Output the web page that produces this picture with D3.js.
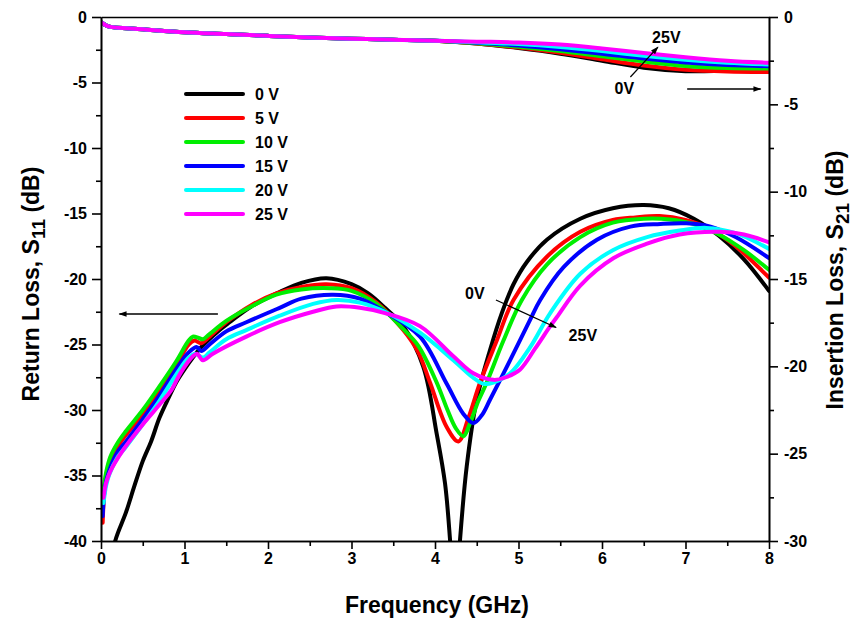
<!DOCTYPE html>
<html>
<head>
<meta charset="utf-8">
<script src="https://cdn.jsdelivr.net/npm/d3@7"></script>
<style>
  body { margin: 0; background: #fff; }
  svg { display: block; font-family: "Liberation Sans", Arial, sans-serif; font-weight: bold; }
</style>
</head>
<body>
<svg id="chart" width="856" height="623"></svg>
<script>
// Bias voltages and line colours
const biasLabels = ["0 V", "5 V", "10 V", "15 V", "20 V", "25 V"];
const biasColors = ["#000000", "#ff0000", "#00ee00", "#0000ff", "#00ffff", "#ff00ff"];

// Tick values
const xTicks = [0, 1, 2, 3, 4, 5, 6, 7, 8];
const yLeftTicks = [0, -5, -10, -15, -20, -25, -30, -35, -40];
const yRightTicks = [0, -5, -10, -15, -20, -25, -30];

// Return loss S11 (dB) vs frequency (GHz): [f, dB]
const s11_0V = [[0.12,-42],[0.17,-40],[0.3,-37.8],[0.4,-35.8],[0.5,-33.9],[0.6,-32.4],[0.7,-30.6],[0.8,-29.2],[0.9,-27.9],[1.0,-26.9],[1.1,-26.0],[1.2,-25.2],[1.4,-24.0],[1.54,-23.3],[1.8,-22.1],[2.14,-21.0],[2.4,-20.3],[2.7,-19.95],[3.0,-20.4],[3.2,-21.1],[3.4,-22.2],[3.62,-23.6],[3.86,-26.7],[4.02,-31.8],[4.12,-35.6],[4.18,-39.9],[4.24,-46],[4.3,-39.9],[4.38,-34.3],[4.5,-29.2],[4.66,-25.4],[4.8,-22.6],[4.94,-20.4],[5.1,-18.7],[5.34,-17.0],[5.74,-15.4],[6.13,-14.6],[6.5,-14.35],[6.8,-14.6],[7.1,-15.4],[7.4,-16.7],[7.7,-18.5],[8.0,-20.9]];
const s11_5V = [[0.02,-38.6],[0.05,-35.6],[0.1,-34.1],[0.2,-32.8],[0.3,-31.9],[0.5,-30.3],[0.7,-28.5],[0.9,-26.6],[1.05,-25.0],[1.12,-24.7],[1.2,-24.9],[1.3,-24.4],[1.5,-23.3],[1.8,-22.0],[2.1,-21.1],[2.4,-20.6],[2.7,-20.4],[3.0,-20.7],[3.3,-21.8],[3.62,-23.9],[3.8,-25.6],[3.94,-27.9],[4.14,-31.3],[4.28,-32.4],[4.4,-30.6],[4.54,-27.9],[4.74,-24.7],[4.94,-21.6],[5.34,-18.3],[5.74,-16.4],[6.13,-15.5],[6.4,-15.3],[6.69,-15.2],[7.0,-15.5],[7.3,-16.2],[7.6,-17.5],[8.0,-19.9]];
const s11_10V = [[0.03,-36.1],[0.06,-34.8],[0.11,-33.6],[0.2,-32.5],[0.3,-31.6],[0.5,-30.0],[0.7,-28.2],[0.9,-26.3],[1.05,-24.7],[1.1,-24.4],[1.17,-24.5],[1.22,-24.6],[1.3,-24.2],[1.5,-23.2],[1.8,-22.1],[2.1,-21.2],[2.4,-20.8],[2.74,-20.7],[3.0,-20.9],[3.3,-21.9],[3.6,-23.7],[3.8,-25.1],[4.02,-27.9],[4.15,-30.0],[4.25,-31.4],[4.34,-32.0],[4.42,-31.0],[4.52,-29.3],[4.62,-27.9],[4.82,-24.7],[5.04,-21.6],[5.34,-18.9],[5.74,-16.8],[6.13,-15.7],[6.5,-15.4],[6.81,-15.45],[7.1,-15.8],[7.4,-16.6],[7.7,-17.8],[8.0,-19.3]];
const s11_15V = [[0.02,-38.1],[0.05,-35.8],[0.1,-34.6],[0.2,-33.2],[0.3,-32.4],[0.5,-30.7],[0.7,-28.9],[0.9,-26.9],[1.05,-25.6],[1.15,-25.2],[1.2,-25.5],[1.3,-25.0],[1.5,-24.0],[1.74,-23.3],[2.14,-22.2],[2.4,-21.5],[2.78,-21.2],[3.1,-21.5],[3.4,-22.5],[3.82,-24.4],[4.14,-28.0],[4.34,-30.3],[4.46,-31.0],[4.56,-30.4],[4.66,-29.2],[4.9,-26.2],[5.14,-23.1],[5.26,-21.6],[5.54,-19.1],[5.94,-17.0],[6.34,-16.0],[6.7,-15.8],[7.01,-15.75],[7.3,-16.0],[7.6,-16.8],[8.0,-18.4]];
const s11_20V = [[0.03,-37.1],[0.06,-35.8],[0.1,-34.9],[0.2,-33.6],[0.3,-32.8],[0.5,-31.1],[0.7,-29.3],[0.9,-27.3],[1.05,-26.0],[1.13,-25.7],[1.22,-26.0],[1.3,-25.6],[1.5,-24.6],[1.74,-23.9],[2.14,-22.8],[2.54,-21.9],[2.82,-21.6],[3.1,-21.8],[3.4,-22.5],[3.82,-24.1],[4.22,-26.2],[4.45,-27.5],[4.58,-28.0],[4.7,-27.9],[4.9,-27.2],[5.14,-25.2],[5.38,-22.6],[5.74,-19.6],[6.13,-17.8],[6.54,-16.8],[6.93,-16.3],[7.25,-16.1],[7.6,-16.5],[8.0,-17.7]];
const s11_25V = [[0.03,-36.7],[0.06,-35.6],[0.11,-34.7],[0.27,-33.0],[0.5,-31.1],[0.7,-29.6],[0.85,-28.4],[0.95,-27.2],[1.1,-25.9],[1.15,-25.7],[1.22,-26.2],[1.34,-25.7],[1.74,-24.4],[2.14,-23.3],[2.54,-22.5],[2.82,-22.1],[3.1,-22.2],[3.4,-22.6],[3.82,-23.6],[4.22,-25.9],[4.46,-27.2],[4.7,-27.7],[4.85,-27.5],[5.02,-26.9],[5.2,-25.3],[5.38,-23.6],[5.46,-22.9],[5.74,-20.5],[6.14,-18.4],[6.54,-17.3],[6.93,-16.6],[7.41,-16.4],[7.7,-16.6],[8.0,-17.2]];

// Insertion loss S21 (dB) vs frequency (GHz): [f, dB]
const s21_0V  = [[0,-0.3],[0.05,-0.45],[0.1,-0.55],[0.5,-0.7],[1,-0.88],[1.5,-0.98],[2,-1.08],[2.5,-1.17],[3,-1.24],[3.5,-1.3],[4,-1.36],[4.5,-1.52],[5,-1.78],[5.5,-2.1],[6,-2.5],[6.5,-2.9],[7,-3.1],[7.5,-3.08],[8,-3.05]];
const s21_5V  = [[0,-0.3],[0.05,-0.45],[0.1,-0.55],[0.5,-0.7],[1,-0.88],[1.5,-0.98],[2,-1.08],[2.5,-1.17],[3,-1.24],[3.5,-1.3],[4,-1.36],[4.5,-1.52],[5,-1.75],[5.5,-2.05],[6,-2.42],[6.5,-2.78],[7,-3.02],[7.5,-3.12],[8,-3.15]];
const s21_10V = [[0,-0.3],[0.05,-0.45],[0.1,-0.55],[0.5,-0.7],[1,-0.88],[1.5,-0.98],[2,-1.08],[2.5,-1.17],[3,-1.24],[3.5,-1.3],[4,-1.36],[4.5,-1.5],[5,-1.7],[5.5,-1.95],[6,-2.25],[6.5,-2.55],[7,-2.8],[7.5,-2.92],[8,-2.95]];
const s21_15V = [[0,-0.3],[0.05,-0.45],[0.1,-0.55],[0.5,-0.7],[1,-0.88],[1.5,-0.98],[2,-1.08],[2.5,-1.17],[3,-1.24],[3.5,-1.3],[4,-1.36],[4.5,-1.47],[5,-1.63],[5.5,-1.85],[6,-2.1],[6.5,-2.38],[7,-2.6],[7.5,-2.75],[8,-2.82]];
const s21_20V = [[0,-0.3],[0.05,-0.45],[0.1,-0.55],[0.5,-0.7],[1,-0.88],[1.5,-0.98],[2,-1.08],[2.5,-1.17],[3,-1.24],[3.5,-1.3],[4,-1.36],[4.5,-1.44],[5,-1.55],[5.5,-1.72],[6,-1.95],[6.5,-2.22],[7,-2.45],[7.5,-2.62],[8,-2.72]];
const s21_25V = [[0,-0.3],[0.05,-0.45],[0.1,-0.55],[0.5,-0.7],[1,-0.88],[1.5,-0.98],[2,-1.08],[2.5,-1.17],[3,-1.24],[3.5,-1.3],[4,-1.36],[4.5,-1.41],[5,-1.46],[5.5,-1.58],[6,-1.8],[6.5,-2.06],[7,-2.3],[7.5,-2.5],[8,-2.62]];

const s11Series = [s11_0V, s11_5V, s11_10V, s11_15V, s11_20V, s11_25V];
const s21Series = [s21_0V, s21_5V, s21_10V, s21_15V, s21_20V, s21_25V];

const svg = d3.select("#chart");
const L = 101, R = 769, T = 17, B = 541;

const x = d3.scaleLinear().domain([0, 8]).range([L, R]);
const yL = d3.scaleLinear().domain([-40, 0]).range([B, T]);
const yR = d3.scaleLinear().domain([-30, 0]).range([B, T]);

const defs = svg.append("defs");
defs.append("clipPath").attr("id", "plotclip")
  .append("rect").attr("x", L).attr("y", T).attr("width", R - L).attr("height", B - T);
defs.append("marker").attr("id", "head").attr("viewBox", "0 0 10 10")
  .attr("refX", 9).attr("refY", 5).attr("markerWidth", 12).attr("markerHeight", 8)
  .attr("markerUnits", "userSpaceOnUse").attr("orient", "auto")
  .append("path").attr("d", "M0,1.5 L10,5 L0,8.5 Z").attr("fill", "#000");

// Curves
const plot = svg.append("g").attr("clip-path", "url(#plotclip)");
const lineL = d3.line().x(d => x(d[0])).y(d => yL(d[1])).curve(d3.curveCatmullRom.alpha(0.5));
const lineR = d3.line().x(d => x(d[0])).y(d => yR(d[1])).curve(d3.curveCatmullRom.alpha(0.5));

s11Series.forEach((s, i) => {
  plot.append("path").datum(s).attr("d", lineL)
    .attr("fill", "none").attr("stroke", biasColors[i]).attr("stroke-width", 4)
    .attr("stroke-linejoin", "round").attr("stroke-linecap", "round");
});
s21Series.forEach((s, i) => {
  plot.append("path").datum(s).attr("d", lineR)
    .attr("fill", "none").attr("stroke", biasColors[i]).attr("stroke-width", 4)
    .attr("stroke-linejoin", "round").attr("stroke-linecap", "round");
});

// Axes
const fmt = d => String(d);
const tickFont = g => g.selectAll("text").attr("font-size", 16).attr("font-weight", "bold")
  .attr("font-family", "Liberation Sans, Arial, sans-serif").attr("fill", "#000");
const axisStyle = g => { g.selectAll("path,line").attr("stroke", "#000").attr("stroke-width", 1.6); };

const xMinor = d3.range(0.5, 8, 1);
const yLMinor = d3.range(-37.5, 0, 5);
const yRMinor = d3.range(-27.5, 0, 5);

svg.append("g").attr("transform", `translate(0,${B})`)
  .call(d3.axisBottom(x).tickValues(xMinor).tickSize(5).tickFormat("").tickSizeOuter(0))
  .call(axisStyle);
svg.append("g").attr("transform", `translate(0,${B})`)
  .call(d3.axisBottom(x).tickValues(xTicks).tickSize(8).tickSizeOuter(0).tickPadding(4).tickFormat(fmt))
  .call(axisStyle).call(tickFont);
svg.append("g").attr("transform", `translate(0,${T})`)
  .call(d3.axisTop(x).tickValues([]).tickSizeOuter(0)).call(axisStyle);

svg.append("g").attr("transform", `translate(${L},0)`)
  .call(d3.axisLeft(yL).tickValues(yLMinor).tickSize(5).tickFormat("").tickSizeOuter(0))
  .call(axisStyle);
svg.append("g").attr("transform", `translate(${L},0)`)
  .call(d3.axisLeft(yL).tickValues(yLeftTicks).tickSize(9).tickSizeOuter(0).tickPadding(5).tickFormat(fmt))
  .call(axisStyle).call(tickFont);

svg.append("g").attr("transform", `translate(${R},0)`)
  .call(d3.axisRight(yR).tickValues(yRMinor).tickSize(5).tickFormat("").tickSizeOuter(0))
  .call(axisStyle);
svg.append("g").attr("transform", `translate(${R},0)`)
  .call(d3.axisRight(yR).tickValues(yRightTicks).tickSize(9).tickSizeOuter(0).tickPadding(6).tickFormat(fmt))
  .call(axisStyle).call(tickFont);

// Axis titles
svg.append("text").attr("x", (L + R) / 2 + 2).attr("y", 613).attr("text-anchor", "middle")
  .attr("font-size", 23).text("Frequency (GHz)");

function subTitle(cx, cy, pre, sub, post) {
  const t = svg.append("text").attr("transform", `translate(${cx},${cy}) rotate(-90)`)
    .attr("text-anchor", "middle").attr("font-size", 23);
  t.append("tspan").text(pre);
  t.append("tspan").attr("dy", 6).attr("font-size", 19).text(sub);
  t.append("tspan").attr("dy", -6).text(post);
}
subTitle(39, 284, "Return Loss, S", "11", " (dB)");
subTitle(843, 280, "Insertion Loss, S", "21", " (dB)");

// Legend
const legend = svg.append("g");
biasLabels.forEach((lab, i) => {
  const yy = 94 + i * 24;
  legend.append("line").attr("x1", 186).attr("x2", 243).attr("y1", yy).attr("y2", yy)
    .attr("stroke", biasColors[i]).attr("stroke-width", 4).attr("stroke-linecap", "round");
  legend.append("text").attr("x", 255).attr("y", yy + 6).attr("font-size", 16).text(lab);
});

// Direction arrows and bias sweep annotations
const arrow = (x1, y1, x2, y2, w) => svg.append("line")
  .attr("x1", x1).attr("y1", y1).attr("x2", x2).attr("y2", y2)
  .attr("stroke", "#000").attr("stroke-width", w).attr("marker-end", "url(#head)");

arrow(x(1.4), yL(-22.67), x(0.22), yL(-22.67), 1.6);   // S11 -> left axis
arrow(x(7.02), yR(-4.12), x(7.9), yR(-4.12), 1.6);      // S21 -> right axis
arrow(x(6.34), yL(-4.58), x(6.67), yL(-2.3), 1.2);      // S21 sweep
arrow(x(4.73), yL(-21.6), x(5.45), yL(-23.7), 1.2);     // S11 sweep

const note = (xx, yy, txt) => svg.append("text").attr("x", xx).attr("y", yy).attr("font-size", 16).text(txt);
note(x(6.6), yL(-1.95), "25V");
note(x(6.15), yL(-5.85), "0V");
note(x(4.36), yL(-21.55), "0V");
note(x(5.6), yL(-24.7), "25V");
</script>
</body>
</html>
